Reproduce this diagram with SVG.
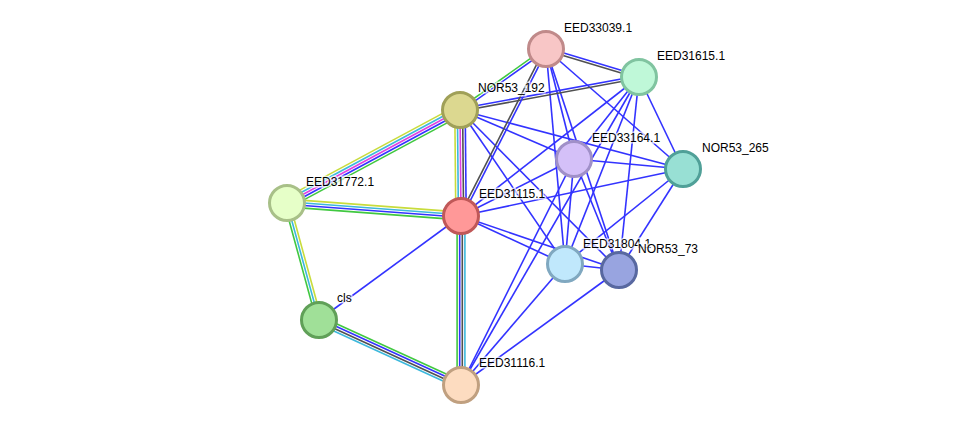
<svg xmlns="http://www.w3.org/2000/svg" width="976" height="430" viewBox="0 0 976 430">
<style>
.e line{stroke-width:1.6;fill:none}
.b{stroke:#3333ff}
.y{stroke:#c8dc3c}
.c{stroke:#3cb8dc}
.m{stroke:#e040e0}
.g{stroke:#40c840}
.k{stroke:#505050}
.n circle{stroke-width:3}
.n text{font-family:"Liberation Sans",Arial,sans-serif;font-size:12px;fill:#000;stroke:#fff;stroke-width:3px;stroke-opacity:0.7;paint-order:stroke}
</style>
<rect width="976" height="430" fill="#fff"/>
<g id="connectors" class="e">
<line class="b" x1="461" y1="216" x2="319" y2="320"/>
<line class="b" x1="461" y1="216" x2="574" y2="159"/>
<line class="b" x1="461" y1="216" x2="639" y2="77"/>
<line class="b" x1="461" y1="216" x2="683" y2="169"/>
<line class="b" x1="461" y1="216" x2="565" y2="264"/>
<line class="b" x1="461" y1="216" x2="619" y2="270"/>
<line class="b" x1="460" y1="110" x2="574" y2="159"/>
<line class="b" x1="460" y1="110" x2="683" y2="169"/>
<line class="b" x1="460" y1="110" x2="565" y2="264"/>
<line class="b" x1="460" y1="110" x2="619" y2="270"/>
<line class="b" x1="546" y1="49" x2="574" y2="159"/>
<line class="b" x1="546" y1="49" x2="565" y2="264"/>
<line class="b" x1="546" y1="49" x2="619" y2="270"/>
<line class="b" x1="546" y1="49" x2="683" y2="169"/>
<line class="b" x1="639" y1="77" x2="574" y2="159"/>
<line class="b" x1="639" y1="77" x2="683" y2="169"/>
<line class="b" x1="639" y1="77" x2="565" y2="264"/>
<line class="b" x1="639" y1="77" x2="619" y2="270"/>
<line class="b" x1="639" y1="77" x2="461" y2="385"/>
<line class="b" x1="574" y1="159" x2="683" y2="169"/>
<line class="b" x1="574" y1="159" x2="565" y2="264"/>
<line class="b" x1="574" y1="159" x2="619" y2="270"/>
<line class="b" x1="574" y1="159" x2="461" y2="385"/>
<line class="b" x1="683" y1="169" x2="565" y2="264"/>
<line class="b" x1="683" y1="169" x2="619" y2="270"/>
<line class="b" x1="565" y1="264" x2="619" y2="270"/>
<line class="b" x1="565" y1="264" x2="461" y2="385"/>
<line class="b" x1="619" y1="270" x2="461" y2="385"/>
<line class="y" x1="284.54" y1="198.42" x2="457.54" y2="105.42"/>
<line class="c" x1="285.77" y1="200.71" x2="458.77" y2="107.71"/>
<line class="m" x1="287" y1="203" x2="460" y2="110"/>
<line class="b" x1="288.23" y1="205.29" x2="461.23" y2="112.29"/>
<line class="g" x1="289.46" y1="207.58" x2="462.46" y2="114.58"/>
<line class="y" x1="454.8" y1="110" x2="455.8" y2="216"/>
<line class="c" x1="457.4" y1="110" x2="458.4" y2="216"/>
<line class="m" x1="460" y1="110" x2="461" y2="216"/>
<line class="k" x1="462.6" y1="110" x2="463.6" y2="216"/>
<line class="b" x1="465.2" y1="110" x2="466.2" y2="216"/>
<line class="y" x1="287.3" y1="199.1" x2="461.3" y2="212.1"/>
<line class="c" x1="287.1" y1="201.7" x2="461.1" y2="214.7"/>
<line class="b" x1="286.9" y1="204.3" x2="460.9" y2="217.3"/>
<line class="g" x1="286.7" y1="206.9" x2="460.7" y2="219.9"/>
<line class="g" x1="284.5" y1="203.7" x2="316.5" y2="320.7"/>
<line class="c" x1="287" y1="203" x2="319" y2="320"/>
<line class="y" x1="289.5" y1="202.3" x2="321.5" y2="319.3"/>
<line class="g" x1="320.6" y1="316.5" x2="462.6" y2="381.5"/>
<line class="b" x1="319.5" y1="318.8" x2="461.5" y2="383.8"/>
<line class="k" x1="318.5" y1="321.2" x2="460.5" y2="386.2"/>
<line class="c" x1="317.4" y1="323.5" x2="459.4" y2="388.5"/>
<line class="g" x1="457.1" y1="216" x2="457.1" y2="385"/>
<line class="b" x1="459.7" y1="216" x2="459.7" y2="385"/>
<line class="k" x1="462.3" y1="216" x2="462.3" y2="385"/>
<line class="c" x1="464.9" y1="216" x2="464.9" y2="385"/>
<line class="g" x1="459.25" y1="108.94" x2="545.25" y2="47.94"/>
<line class="b" x1="460.75" y1="111.06" x2="546.75" y2="50.06"/>
<line class="b" x1="546.37" y1="47.75" x2="639.37" y2="75.75"/>
<line class="k" x1="545.63" y1="50.25" x2="638.63" y2="78.25"/>
<line class="b" x1="459.76" y1="108.72" x2="638.76" y2="75.72"/>
<line class="k" x1="460.24" y1="111.28" x2="639.24" y2="78.28"/>
<line class="k" x1="544.84" y1="48.41" x2="459.84" y2="215.41"/>
<line class="b" x1="547.16" y1="49.59" x2="462.16" y2="216.59"/>
</g>
<g id="EED33039.1" class="n"><circle cx="546" cy="49" r="17.5" fill="#f8c6c6" stroke="#c08a8a"/><text x="564" y="32">EED33039.1</text></g>
<g id="EED31615.1" class="n"><circle cx="639" cy="77" r="17.5" fill="#bff8d8" stroke="#80c4a0"/><text x="657" y="60">EED31615.1</text></g>
<g id="NOR53_192" class="n"><circle cx="460" cy="110" r="17.5" fill="#dcd890" stroke="#a0a058"/><text x="478" y="92">NOR53_192</text></g>
<g id="EED33164.1" class="n"><circle cx="574" cy="159" r="17.5" fill="#d4c0f8" stroke="#a090c8"/><text x="592" y="142">EED33164.1</text></g>
<g id="NOR53_265" class="n"><circle cx="683" cy="169" r="17.5" fill="#98e0d4" stroke="#50a098"/><text x="702" y="152">NOR53_265</text></g>
<g id="EED31772.1" class="n"><circle cx="287" cy="203" r="17.5" fill="#e6ffc8" stroke="#a8c088"/><text x="306" y="186">EED31772.1</text></g>
<g id="EED31115.1" class="n"><circle cx="461" cy="216" r="17.5" fill="#ff9898" stroke="#c05858"/><text x="479" y="198">EED31115.1</text></g>
<g id="EED31804.1" class="n"><circle cx="565" cy="264" r="17.5" fill="#c0e8fc" stroke="#80a8c0"/><text x="583" y="248">EED31804.1</text></g>
<g id="NOR53_73" class="n"><circle cx="619" cy="270" r="17.5" fill="#98a4e0" stroke="#5868a0"/><text x="638" y="253">NOR53_73</text></g>
<g id="cls" class="n"><circle cx="319" cy="320" r="17.5" fill="#a0e098" stroke="#60a058"/><text x="337" y="302">cls</text></g>
<g id="EED31116.1" class="n"><circle cx="461" cy="385" r="17.5" fill="#fddcc0" stroke="#c0a080"/><text x="479" y="367">EED31116.1</text></g>
</svg>
